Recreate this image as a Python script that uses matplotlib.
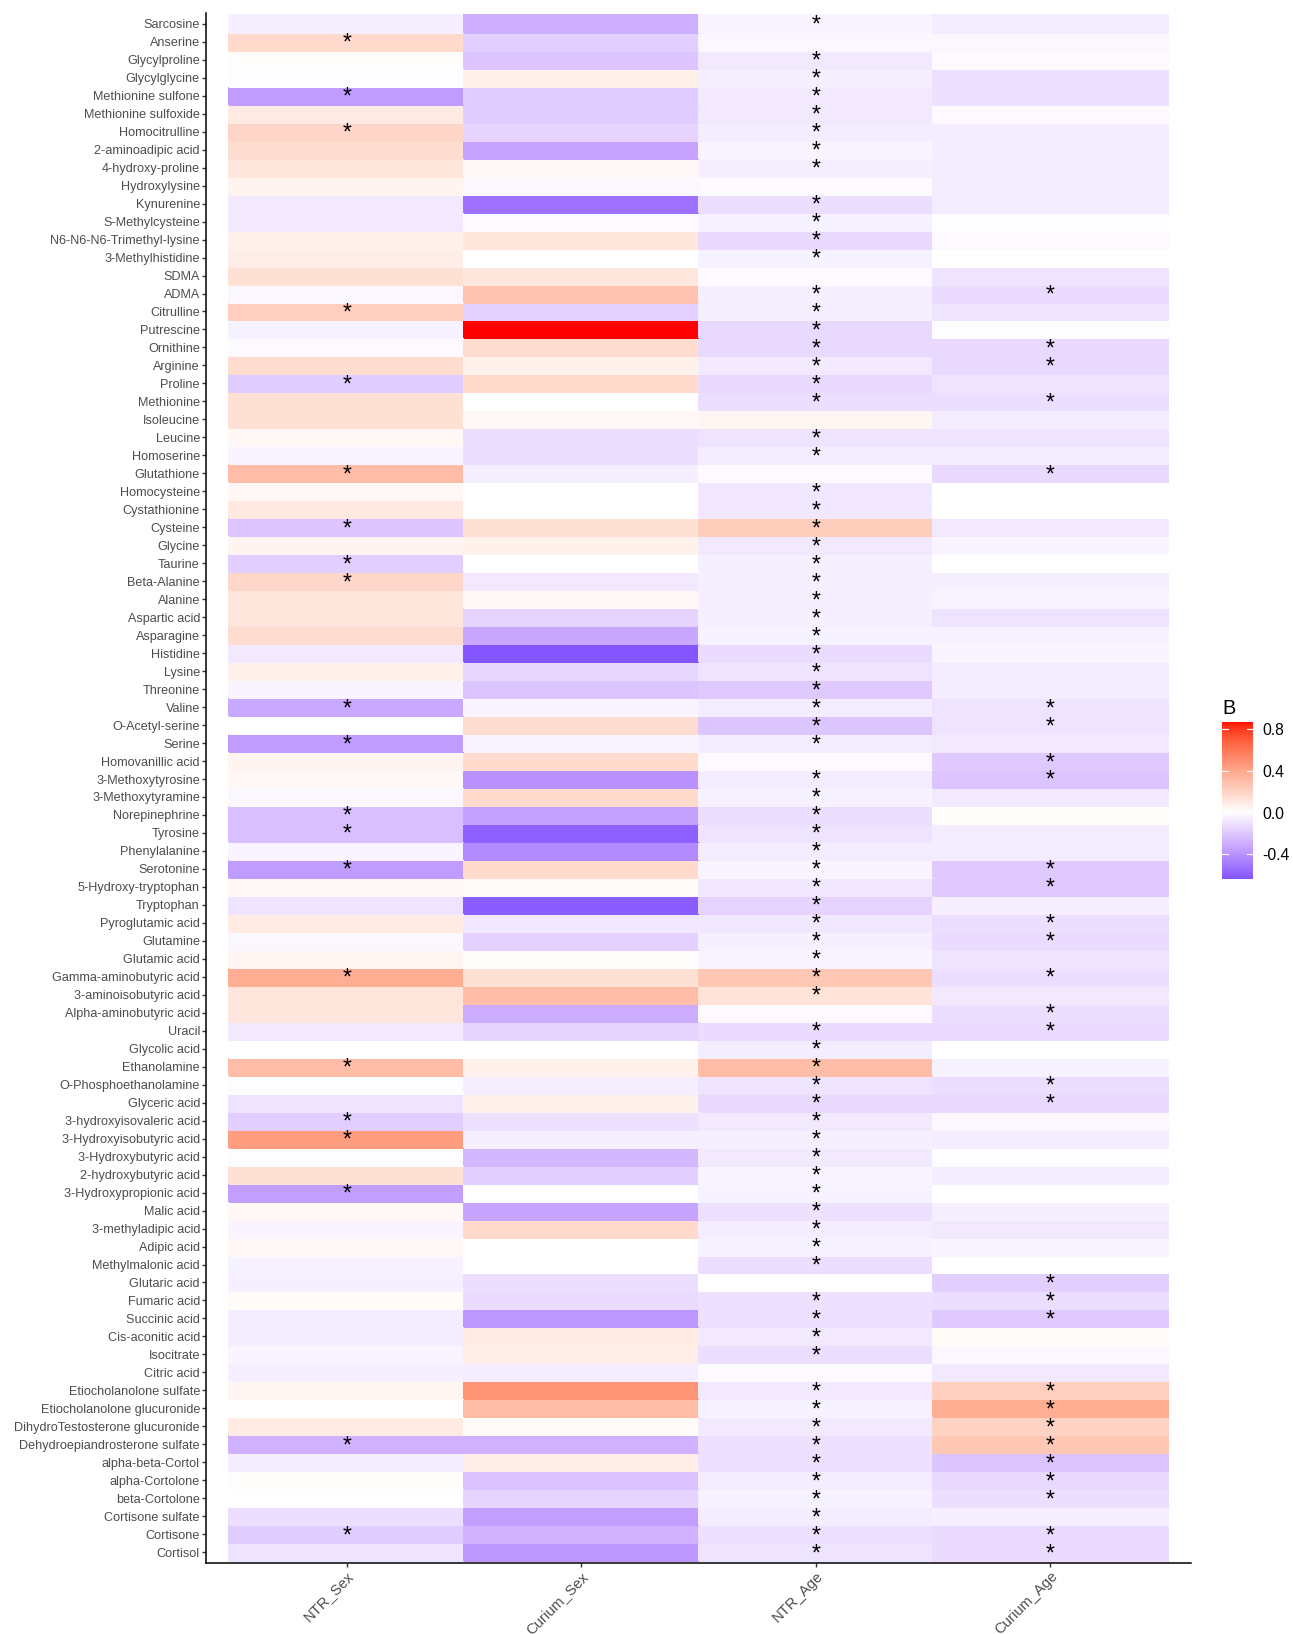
import numpy as np
import matplotlib
matplotlib.use("Agg")
import matplotlib.pyplot as plt
from matplotlib.colors import ListedColormap, Normalize
import matplotlib.transforms as mtransforms

plt.rcParams['font.family'] = ['Liberation Sans', 'DejaVu Sans']

metabolites = [
    "Sarcosine", "Anserine", "Glycylproline", "Glycylglycine", "Methionine sulfone",
    "Methionine sulfoxide", "Homocitrulline", "2-aminoadipic acid", "4-hydroxy-proline", "Hydroxylysine",
    "Kynurenine", "S-Methylcysteine", "N6-N6-N6-Trimethyl-lysine", "3-Methylhistidine", "SDMA",
    "ADMA", "Citrulline", "Putrescine", "Ornithine", "Arginine",
    "Proline", "Methionine", "Isoleucine", "Leucine", "Homoserine",
    "Glutathione", "Homocysteine", "Cystathionine", "Cysteine", "Glycine",
    "Taurine", "Beta-Alanine", "Alanine", "Aspartic acid", "Asparagine",
    "Histidine", "Lysine", "Threonine", "Valine", "O-Acetyl-serine",
    "Serine", "Homovanillic acid", "3-Methoxytyrosine", "3-Methoxytyramine", "Norepinephrine",
    "Tyrosine", "Phenylalanine", "Serotonine", "5-Hydroxy-tryptophan", "Tryptophan",
    "Pyroglutamic acid", "Glutamine", "Glutamic acid", "Gamma-aminobutyric acid", "3-aminoisobutyric acid",
    "Alpha-aminobutyric acid", "Uracil", "Glycolic acid", "Ethanolamine", "O-Phosphoethanolamine",
    "Glyceric acid", "3-hydroxyisovaleric acid", "3-Hydroxyisobutyric acid", "3-Hydroxybutyric acid", "2-hydroxybutyric acid",
    "3-Hydroxypropionic acid", "Malic acid", "3-methyladipic acid", "Adipic acid", "Methylmalonic acid",
    "Glutaric acid", "Fumaric acid", "Succinic acid", "Cis-aconitic acid", "Isocitrate",
    "Citric acid", "Etiocholanolone sulfate", "Etiocholanolone glucuronide", "DihydroTestosterone glucuronide",
    "Dehydroepiandrosterone sulfate",
    "alpha-beta-Cortol", "alpha-Cortolone", "beta-Cortolone", "Cortisone sulfate", "Cortisone",
    "Cortisol",
]

columns = ["NTR_Sex", "Curium_Sex", "NTR_Age", "Curium_Age"]

ntr_sex = [
    -0.06, 0.17, 0.01, -0.01, -0.37, 0.09, 0.19, 0.15, 0.11, 0.05,
    -0.08, -0.08, 0.06, 0.08, 0.14, -0.03, 0.22, -0.05, -0.02, 0.16,
    -0.19, 0.14, 0.14, 0.03, -0.04, 0.30, 0.03, 0.10, -0.21, 0.05,
    -0.18, 0.18, 0.12, 0.12, 0.16, -0.08, 0.06, -0.04, -0.32, 0.00,
    -0.37, 0.05, 0.03, -0.03, -0.24, -0.24, -0.04, -0.37, 0.03, -0.10,
    0.09, -0.03, 0.04, 0.37, 0.12, 0.12, -0.08, 0.00, 0.30, -0.01,
    -0.10, -0.18, 0.44, -0.01, 0.14, -0.36, 0.03, -0.04, 0.03, -0.05,
    -0.06, 0.02, -0.07, -0.07, -0.04, -0.06, 0.04, 0.00, 0.09, -0.29,
    -0.07, 0.01, 0.00, -0.12, -0.19, -0.10,
]

curium_sex = [
    -0.30, -0.18, -0.21, 0.07, -0.19, -0.19, -0.16, -0.34, 0.03, -0.03,
    -0.53, -0.02, 0.11, 0.00, 0.11, 0.27, -0.17, 0.87, 0.16, 0.06,
    0.17, 0.00, 0.03, -0.12, -0.12, -0.06, 0.00, 0.00, 0.14, 0.06,
    0.00, -0.08, 0.03, -0.16, -0.33, -0.64, -0.15, -0.22, -0.04, 0.16,
    -0.04, 0.17, -0.41, 0.17, -0.35, -0.60, -0.44, 0.17, 0.02, -0.61,
    -0.09, -0.17, 0.01, 0.14, 0.30, -0.31, -0.16, 0.00, 0.06, -0.06,
    0.06, -0.11, -0.06, -0.27, -0.18, 0.00, -0.34, 0.17, 0.00, 0.00,
    -0.12, -0.13, -0.39, 0.09, 0.08, -0.07, 0.48, 0.30, 0.02, -0.29,
    0.08, -0.23, -0.16, -0.36, -0.29, -0.39,
]

ntr_age = [
    -0.04, -0.03, -0.08, -0.06, -0.08, -0.08, -0.07, -0.04, -0.06, -0.02,
    -0.12, -0.05, -0.14, -0.05, -0.02, -0.06, -0.06, -0.14, -0.14, -0.08,
    -0.14, -0.12, 0.04, -0.10, -0.07, -0.02, -0.09, -0.09, 0.23, -0.08,
    -0.06, -0.06, -0.06, -0.06, -0.05, -0.13, -0.10, -0.20, -0.07, -0.21,
    -0.07, -0.02, -0.07, -0.05, -0.12, -0.10, -0.07, -0.04, -0.09, -0.16,
    -0.09, -0.06, -0.04, 0.25, 0.13, -0.02, -0.13, -0.07, 0.30, -0.10,
    -0.14, -0.08, -0.06, -0.08, -0.04, -0.05, -0.11, -0.07, -0.05, -0.12,
    0.00, -0.11, -0.11, -0.08, -0.12, -0.02, -0.08, -0.05, -0.08, -0.11,
    -0.11, -0.07, -0.05, -0.07, -0.11, -0.10,
]

curium_age = [
    -0.07, -0.03, -0.02, -0.11, -0.11, -0.02, -0.07, -0.07, -0.07, -0.07,
    -0.07, -0.01, -0.02, 0.00, -0.10, -0.13, -0.10, -0.01, -0.14, -0.14,
    -0.10, -0.12, -0.07, -0.10, -0.07, -0.14, 0.00, 0.00, -0.08, -0.04,
    0.00, -0.06, -0.04, -0.10, -0.05, -0.04, -0.07, -0.07, -0.10, -0.10,
    -0.08, -0.20, -0.22, -0.08, 0.01, -0.07, -0.07, -0.20, -0.20, -0.06,
    -0.12, -0.13, -0.10, -0.12, -0.08, -0.12, -0.13, 0.00, -0.05, -0.12,
    -0.14, -0.03, -0.07, -0.01, -0.07, 0.00, -0.06, -0.08, -0.04, 0.00,
    -0.18, -0.12, -0.20, 0.02, -0.03, -0.08, 0.22, 0.37, 0.20, 0.25,
    -0.22, -0.14, -0.12, -0.06, -0.13, -0.13,
]

# significance flags (1 = "*")
sig_ntr_sex = [
    0, 1, 0, 0, 1, 0, 1, 0, 0, 0,
    0, 0, 0, 0, 0, 0, 1, 0, 0, 0,
    1, 0, 0, 0, 0, 1, 0, 0, 1, 0,
    1, 1, 0, 0, 0, 0, 0, 0, 1, 0,
    1, 0, 0, 0, 1, 1, 0, 1, 0, 0,
    0, 0, 0, 1, 0, 0, 0, 0, 1, 0,
    0, 1, 1, 0, 0, 1, 0, 0, 0, 0,
    0, 0, 0, 0, 0, 0, 0, 0, 0, 1,
    0, 0, 0, 0, 1, 0,
]
sig_curium_sex = [0] * 86
sig_ntr_age = [
    1, 0, 1, 1, 1, 1, 1, 1, 1, 0,
    1, 1, 1, 1, 0, 1, 1, 1, 1, 1,
    1, 1, 0, 1, 1, 0, 1, 1, 1, 1,
    1, 1, 1, 1, 1, 1, 1, 1, 1, 1,
    1, 0, 1, 1, 1, 1, 1, 1, 1, 1,
    1, 1, 1, 1, 1, 0, 1, 1, 1, 1,
    1, 1, 1, 1, 1, 1, 1, 1, 1, 1,
    0, 1, 1, 1, 1, 0, 1, 1, 1, 1,
    1, 1, 1, 1, 1, 1,
]
sig_curium_age = [
    0, 0, 0, 0, 0, 0, 0, 0, 0, 0,
    0, 0, 0, 0, 0, 1, 0, 0, 1, 1,
    0, 1, 0, 0, 0, 1, 0, 0, 0, 0,
    0, 0, 0, 0, 0, 0, 0, 0, 1, 1,
    0, 1, 1, 0, 0, 0, 0, 1, 1, 0,
    1, 1, 0, 1, 0, 1, 1, 0, 0, 1,
    1, 0, 0, 0, 0, 0, 0, 0, 0, 0,
    1, 1, 1, 0, 0, 0, 1, 1, 1, 1,
    1, 1, 1, 0, 1, 1,
]

colorbar_ticks = [-0.4, 0.0, 0.4, 0.8]
colorbar_ticklabels = ["-0.4", "0.0", "0.4", "0.8"]


# ---------- Lab colour interpolation (like ggplot's scale_fill_gradient2) ----------
def srgb_to_lab(rgb):
    c = np.asarray(rgb, float)
    lin = np.where(c <= 0.04045, c / 12.92, ((c + 0.055) / 1.055) ** 2.4)
    M = np.array([[0.4124564, 0.3575761, 0.1804375],
                  [0.2126729, 0.7151522, 0.0721750],
                  [0.0193339, 0.1191920, 0.9503041]])
    xyz = lin @ M.T
    wp = np.array([0.95047, 1.0, 1.08883])
    r = xyz / wp
    f = np.where(r > 0.008856, np.cbrt(r), 7.787 * r + 16 / 116)
    L = 116 * f[..., 1] - 16
    a = 500 * (f[..., 0] - f[..., 1])
    b = 200 * (f[..., 1] - f[..., 2])
    return np.stack([L, a, b], axis=-1)


def lab_to_srgb(lab):
    lab = np.asarray(lab, float)
    L, a, b = lab[..., 0], lab[..., 1], lab[..., 2]
    fy = (L + 16) / 116
    fx = fy + a / 500
    fz = fy - b / 200
    def finv(t):
        return np.where(t ** 3 > 0.008856, t ** 3, (t - 16 / 116) / 7.787)
    wp = np.array([0.95047, 1.0, 1.08883])
    xyz = np.stack([finv(fx), finv(fy), finv(fz)], axis=-1) * wp
    Minv = np.array([[3.2404542, -1.5371385, -0.4985314],
                     [-0.9692660, 1.8760108, 0.0415560],
                     [0.0556434, -0.2040259, 1.0572252]])
    lin = np.clip(xyz @ Minv.T, 0, 1)
    srgb = np.where(lin <= 0.0031308, 12.92 * lin, 1.055 * lin ** (1 / 2.4) - 0.055)
    return np.clip(srgb, 0, 1)


lab_low = srgb_to_lab([0.0, 0.0, 1.0])
lab_mid = srgb_to_lab([1.0, 1.0, 1.0])
lab_high = srgb_to_lab([1.0, 0.0, 0.0])
xs = np.linspace(0, 1, 1025)
labs = []
for x in xs:
    if x <= 0.5:
        t = (0.5 - x) / 0.5
        labs.append(lab_mid * (1 - t) + lab_low * t)
    else:
        t = (x - 0.5) / 0.5
        labs.append(lab_mid * (1 - t) + lab_high * t)
cmap = ListedColormap(lab_to_srgb(np.array(labs)))

Z = np.array([ntr_sex, curium_sex, ntr_age, curium_age]).T  # rows x cols
S = np.array([sig_ntr_sex, sig_curium_sex, sig_ntr_age, sig_curium_age]).T
n = len(metabolites)
vmax_abs = np.abs(Z).max()
norm = Normalize(vmin=-vmax_abs, vmax=vmax_abs)

# ---------- figure ----------
W, H, DPI = 1293, 1634, 100
fig = plt.figure(figsize=(W / DPI, H / DPI), dpi=DPI)


def px_axes(l, t, r, b):
    return fig.add_axes([l / W, 1 - b / H, (r - l) / W, (b - t) / H])


ax = px_axes(206, 13, 1191, 1563)
xedges = np.arange(0.5, len(columns) + 1, 1.0)
yedges = np.arange(0.5, n + 1, 1.0)
ax.pcolormesh(xedges, yedges, Z[::-1], cmap=cmap, norm=norm,
              edgecolors='face', linewidth=0.3, antialiased=False)

ax.set_xlim(0.4, len(columns) + 0.6)
ax.set_ylim(0.4, n + 0.6)

star_tr = ax.transData + mtransforms.ScaledTranslation(0, -8.0 / DPI, fig.dpi_scale_trans)
for i in range(n):
    for j in range(len(columns)):
        if S[i, j]:
            ax.text(j + 1, n - i, "*", ha="center", va="baseline", fontsize=16.5,
                    color="black", transform=star_tr)

ax.set_yticks(n - np.arange(n))
ax.set_yticklabels(metabolites, fontsize=9.1, color="#4D4D4D")
ax.set_xticks(np.arange(1, len(columns) + 1))
ax.set_xticklabels(columns, fontsize=10.6, color="#4D4D4D", rotation=45,
                   ha="right", va="top", rotation_mode="anchor")
off = mtransforms.ScaledTranslation(8 / DPI, -1.5 / DPI, fig.dpi_scale_trans)
for lab in ax.get_xticklabels():
    lab.set_transform(lab.get_transform() + off)

ax.tick_params(axis="both", length=2.6, width=1.0, color="#333333", pad=1.8)
for s in ["top", "right"]:
    ax.spines[s].set_visible(False)
for s in ["left", "bottom"]:
    ax.spines[s].set_linewidth(1.1)
    ax.spines[s].set_color("black")

# ---------- colour bar ----------
dmin, dmax = Z.min(), Z.max()
zero_px = 812.7
ppu = 104.2
cax = px_axes(1222, zero_px - dmax * ppu, 1253, zero_px - dmin * ppu)
grad = np.linspace(dmin, dmax, 400).reshape(-1, 1)
cax.imshow(grad, cmap=cmap, norm=norm, aspect="auto", origin="lower",
           extent=(0, 1, dmin, dmax), interpolation="bilinear")
cax.set_xlim(0, 1)
cax.set_ylim(dmin, dmax)
for v in colorbar_ticks:
    cax.plot([0, 0.2], [v, v], color="white", lw=0.8)
    cax.plot([0.8, 1], [v, v], color="white", lw=0.8)
cax.set_xticks([])
cax.yaxis.tick_right()
cax.set_yticks(colorbar_ticks)
cax.set_yticklabels(colorbar_ticklabels, fontsize=11.3, color="black")
cax.tick_params(axis="y", length=0, pad=7)
for s in cax.spines.values():
    s.set_visible(False)

fig.text(1222 / W, 1 - 714 / H, "B", fontsize=14.3, ha="left", va="baseline", color="black")

fig.savefig("out.png", dpi=DPI)
